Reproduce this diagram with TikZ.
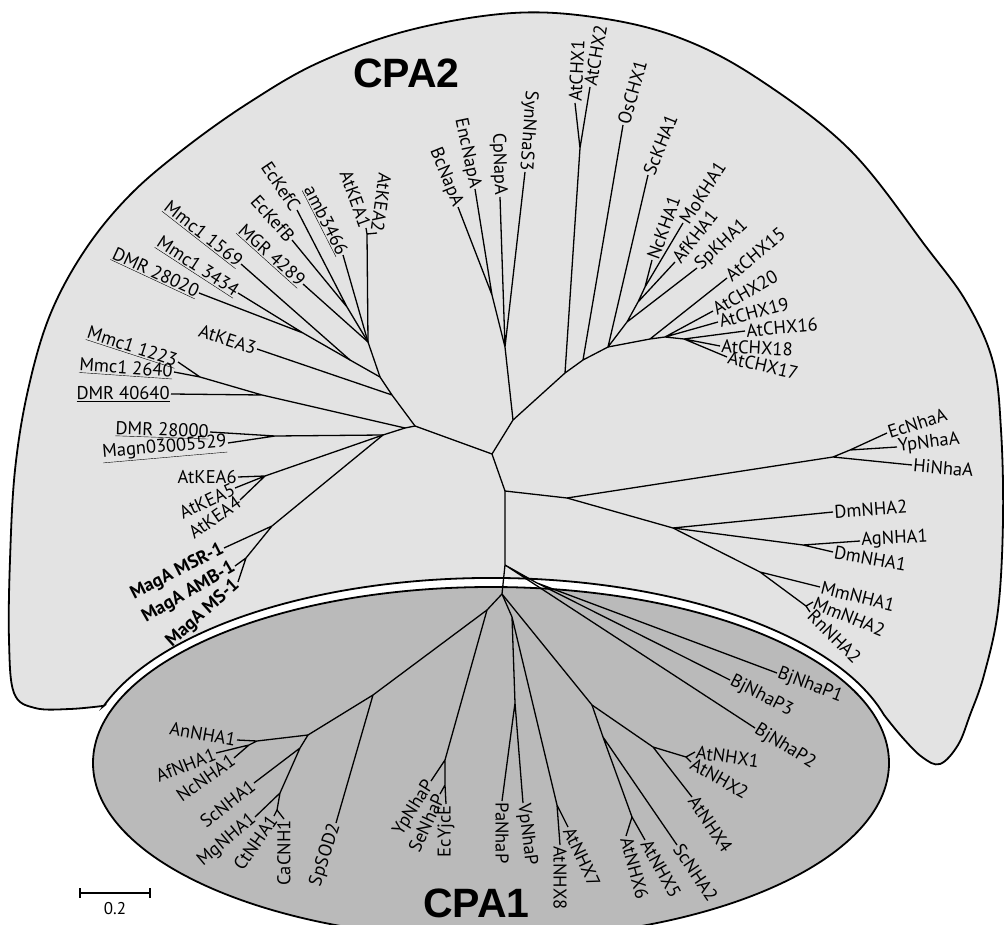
\documentclass[tikz,border=0pt]{standalone}
\usepackage{fontspec}
\setmainfont{PT Sans}
\newfontfamily\titlefont{Liberation Sans}
\definecolor{cpatwo}{HTML}{E3E3E3}
\definecolor{cpaone}{HTML}{BABABA}
\newcommand\leaffont{\fontsize{18.5}{20}\selectfont}

\begin{document}
\begin{tikzpicture}[x=1pt,y=-1pt,
    branch/.style={line width=1.3pt},
    lab/.style={font=\leaffont,inner sep=1.2pt},
    labl/.style={lab,anchor=east},
    labr/.style={lab,anchor=west},
    title/.style={font=\titlefont\bfseries\fontsize{41}{41}\selectfont,inner sep=0pt}]
    \useasboundingbox (0,0) rectangle (1004,925);

    \fill[cpatwo,draw=black,line width=1.8pt] plot[smooth,tension=0.6] coordinates {(103.9,705.8) (70,709) (35,708) (14,693) (9,640) (10,560) (15,470) (28,390) (50,315) (85,250) (130,195) (185,148) (250,102) (320,62) (410,30) (513,13) (600,18) (680,38) (757,78) (850,150) (927,248) (967,303) (993,362) (1001,430) (1003,520) (998,610) (984,675) (970,715) (958,745) (940,764) (922,757) (902,737) (884.1,715.1)} arc[start angle=345, end angle=198, x radius=407, y radius=185] -- cycle;
    \fill[cpaone,draw=black,line width=1.8pt] (491,763) ellipse [x radius=398, y radius=176];

    \node[title,anchor=base west] (cpa2) at (353,88) {CPA2};
    \node[title,anchor=base west] (cpa1) at (423,917) {CPA1};

    \coordinate (kea12) at (367,234);
    \coordinate (kefcb) at (347,307);
    \coordinate (ka) at (368,342);
    \coordinate (kpair) at (303,333);
    \coordinate (kc) at (350,360);
    \coordinate (kb) at (380,377);
    \coordinate (kd) at (392,395);
    \coordinate (L) at (415,426);
    \coordinate (L2) at (405,428);
    \coordinate (L3) at (383,435);
    \coordinate (m1) at (200,377);
    \coordinate (m2) at (262,395);
    \coordinate (m3) at (275,436);
    \coordinate (kea456) at (265,476);
    \coordinate (g1) at (272,526);
    \coordinate (g2) at (246,558);
    \coordinate (C1) at (492,454);
    \coordinate (N1) at (513,420);
    \coordinate (n1) at (505,347);
    \coordinate (n2) at (492,295);
    \coordinate (c1) at (565,373);
    \coordinate (ax) at (580,148);
    \coordinate (c2) at (583,360);
    \coordinate (c3) at (608,347);
    \coordinate (k1) at (627,322);
    \coordinate (k2) at (638,302);
    \coordinate (k3) at (645,287);
    \coordinate (c4) at (650,339);
    \coordinate (c5) at (665,337);
    \coordinate (c6) at (684,339);
    \coordinate (C2) at (505,491);
    \coordinate (nh) at (567,498);
    \coordinate (nhaA) at (833,457);
    \coordinate (ey) at (850,450);
    \coordinate (dm) at (673,528);
    \coordinate (ag) at (803,545);
    \coordinate (mm) at (760,572);
    \coordinate (mr) at (806,606);
    \coordinate (C3) at (505,565);
    \coordinate (bj) at (537,583);
    \coordinate (R) at (502,594);
    \coordinate (l1) at (487,610);
    \coordinate (yp) at (445,760);
    \coordinate (se) at (445,785);
    \coordinate (l2) at (373,695);
    \coordinate (l3) at (308,735);
    \coordinate (an) at (257,741);
    \coordinate (af) at (249,745);
    \coordinate (l4) at (300,748);
    \coordinate (l5) at (280,793);
    \coordinate (l6) at (277,810);
    \coordinate (pa) at (512,617);
    \coordinate (pv) at (515,703);
    \coordinate (x78) at (557,805);
    \coordinate (nx) at (592,705);
    \coordinate (n14) at (653,747);
    \coordinate (n12) at (686,757);
    \coordinate (ni) at (603,737);
    \coordinate (n56) at (632,817);

    \node[labl,rotate=-98] (AtKEA2) at (377,233) {AtKEA2};
    \node[labl,rotate=-70] (AtKEA1) at (366,228) {AtKEA1};
    \node[labl,rotate=-63] (amb3466) at (343,255) {\underline{amb3466}};
    \node[labl,rotate=-56] (EcKefC) at (297,210) {EcKefC};
    \node[labl,rotate=-48] (EcKefB) at (292,240) {EcKefB};
    \node[labl,rotate=-42] (MGR4289) at (303,284) {\underline{MGR 4289}};
    \node[labl,rotate=-38] (Mmc1x1569) at (241,264) {\underline{Mmc1 1569}};
    \node[labl,rotate=-33] (Mmc1x3434) at (238,293) {\underline{Mmc1 3434}};
    \node[labl,rotate=-25] (DMR28020) at (199,293) {\underline{DMR 28020}};
    \node[labl,rotate=-18] (AtKEA3) at (257,349) {AtKEA3};
    \node[labl,rotate=-18] (Mmc1x1223) at (178,362) {\underline{Mmc1 1223}};
    \node[labl,rotate=-4] (Mmc1x2640) at (174,372) {\underline{Mmc1 2640}};
    \node[labl] (DMR40640) at (171,394) {\underline{DMR 40640}};
    \node[labl,rotate=-2] (DMR28000) at (210,432) {\underline{DMR 28000}};
    \node[labl,rotate=5] (Magn) at (228,443) {\underline{Magn03005529}};
    \node[labl] (AtKEA6) at (238,477) {AtKEA6};
    \node[labl,rotate=25] (AtKEA5) at (235,488) {AtKEA5};
    \node[labl,rotate=35] (AtKEA4) at (240,500) {AtKEA4};
    \node[labl,rotate=27,font=\leaffont\bfseries] (MagMSR) at (224,548) {MagA MSR-1};
    \node[labl,rotate=30,font=\leaffont\bfseries] (MagAMB) at (235,566) {MagA AMB-1};
    \node[labl,rotate=42,font=\leaffont\bfseries] (MagMS) at (238,582) {MagA MS-1};

    \node[labl,rotate=-68] (BcNapA) at (458,207) {BcNapA};
    \node[labl,rotate=-78] (EncNapA) at (475,189) {EncNapA};
    \node[labl,rotate=-88] (CpNapA) at (500,197) {CpNapA};
    \node[labl,rotate=-94] (SynNhaS3) at (525,172) {SynNhaS3};
    \node[labr,rotate=87] (AtCHX1) at (575,103) {AtCHX1};
    \node[labr,rotate=80] (AtCHX2) at (590,87) {AtCHX2};
    \node[labr,rotate=74] (OsCHX1) at (623,125) {OsCHX1};
    \node[labr,rotate=68] (ScKHA1) at (648,175) {ScKHA1};
    \node[labr,rotate=70] (NcKHA1) at (652,260) {NcKHA1};
    \node[labr,rotate=57] (MoKHA1) at (683,223) {MoKHA1};
    \node[labr,rotate=52] (AfKHA1) at (675,262) {AfKHA1};
    \node[labr,rotate=43] (SpKHA1) at (697,268) {SpKHA1};
    \node[labr,rotate=40] (AtCHX15) at (727,278) {AtCHX15};
    \node[labr,rotate=30] (AtCHX20) at (713,311) {AtCHX20};
    \node[labr,rotate=15] (AtCHX19) at (718,322) {AtCHX19};
    \node[labr,rotate=5] (AtCHX16) at (745,331) {AtCHX16};
    \node[labr,rotate=-3] (AtCHX18) at (720,346) {AtCHX18};
    \node[labr,rotate=-13] (AtCHX17) at (727,357) {AtCHX17};

    \node[labr,rotate=18] (EcNhaA) at (887,433) {EcNhaA};
    \node[labr,rotate=7] (YpNhaA) at (897,447) {YpNhaA};
    \node[labr,rotate=-5] (HiNhaA) at (912,465) {HiNhaA};
    \node[labr,rotate=4] (DmNHA2) at (833,512) {DmNHA2};
    \node[labr,rotate=3] (AgNHA1) at (860,541) {AgNHA1};
    \node[labr,rotate=-10] (DmNHA1) at (833,552) {DmNHA1};
    \node[labr,rotate=-14] (MmNHA1) at (820,587) {MmNHA1};
    \node[labr,rotate=-22] (MmNHA2) at (813,602) {MmNHA2};
    \node[labr,rotate=-45] (RnNHA2) at (810,612) {RnNHA2};
    \node[labr,rotate=-21] (BjNhaP1) at (777,673) {BjNhaP1};
    \node[labr,rotate=-27] (BjNhaP3) at (730,680) {BjNhaP3};
    \node[labr,rotate=-32] (BjNhaP2) at (755,728) {BjNhaP2};

    \node[labr,rotate=-8] (AtNHX1) at (695,752) {AtNHX1};
    \node[labr,rotate=-30] (AtNHX2) at (691,762) {AtNHX2};
    \node[labr,rotate=-56] (AtNHX4) at (692,797) {AtNHX4};
    \node[labr,rotate=-56] (ScNHA2) at (677,845) {ScNHA2};
    \node[labr,rotate=-61] (AtNHX5) at (645,840) {AtNHX5};
    \node[labr,rotate=-75] (AtNHX6) at (626,836) {AtNHX6};
    \node[labr,rotate=-65] (AtNHX7) at (568,827) {AtNHX7};
    \node[labr,rotate=-90] (AtNHX8) at (560,845) {AtNHX8};
    \node[labr,rotate=-83] (VpNhaP) at (523,803) {VpNhaP};
    \node[labr,rotate=-90] (PaNhaP) at (502,801) {PaNhaP};
    \node[labl,rotate=90] (EcYjcE) at (446,804) {EcYjcE};
    \node[labl,rotate=65] (SeNhaP) at (440,794) {SeNhaP};
    \node[labl,rotate=58] (YpNhaP) at (431,781) {YpNhaP};
    \node[labl,rotate=72] (SpSOD2) at (336,823) {SpSOD2};
    \node[labl,rotate=90] (CaCNH1) at (284,819) {CaCNH1};
    \node[labl,rotate=55] (CtNHA1) at (274,816) {CtNHA1};
    \node[labl,rotate=40] (MgNHA1) at (255,817) {MgNHA1};
    \node[labl,rotate=38] (ScNHA1) at (254,783) {ScNHA1};
    \node[labl,rotate=35] (NcNHA1) at (234,758) {NcNHA1};
    \node[labl,rotate=22] (AfNHA1) at (216,753) {AfNHA1};
    \node[labl,rotate=-10] (AnNHA1) at (237,740) {AnNHA1};

    \draw[branch] (kea12) -- (AtKEA1.east) (kea12) -- (AtKEA2.east) (kea12) -- (ka);
    \draw[branch] (kefcb) -- (EcKefC.east) (kefcb) -- (EcKefB.east) (kefcb) -- (ka);
    \draw[branch] (ka) -- (amb3466.east) (ka) -- (MGR4289.east) (ka) -- (kb);
    \draw[branch] (kpair) -- (Mmc1x3434.east) (kpair) -- (DMR28020.east) (kpair) -- (kc);
    \draw[branch] (kc) -- (Mmc1x1569.east) (kc) -- (kb) -- (kd) -- (AtKEA3.east) (kd) -- (L);
    \draw[branch] (m1) -- (Mmc1x1223.east) (m1) -- (Mmc1x2640.east) (m1) -- (m2) -- (DMR40640.east) (m2) -- (L2);
    \draw[branch] (m3) -- (DMR28000.east) (m3) -- (Magn.east) (m3) -- (L3);
    \draw[branch] (kea456) -- (AtKEA6.east) (kea456) -- (AtKEA5.east) (kea456) -- (AtKEA4.east) (kea456) -- (L3);
    \draw[branch] (g2) -- (MagAMB.east) (g2) -- (MagMS.east) (g2) -- (g1) -- (MagMSR.east) (g1) -- (L3);
    \draw[branch] (L3) -- (L2) -- (L) -- (C1) -- (N1) (C1) -- (C2);
    \draw[branch] (N1) -- (n1) -- (n2) -- (BcNapA.east) (n2) -- (EncNapA.east) (n1) -- (CpNapA.east) (n1) -- (SynNhaS3.east);
    \draw[branch] (N1) -- (c1) -- (ax) -- (AtCHX1.west) (ax) -- (AtCHX2.west) (c1) -- (c2) -- (OsCHX1.west) (c2) -- (c3);
    \draw[branch] (c3) -- (ScKHA1.west) (c3) -- (k1) -- (SpKHA1.west) (k1) -- (k2) -- (AfKHA1.west) (k2) -- (k3) -- (NcKHA1.west) (k3) -- (MoKHA1.west);
    \draw[branch] (c3) -- (c4) -- (AtCHX15.west) (c4) -- (c5) -- (AtCHX20.west) (c5) -- (AtCHX19.west) (c5) -- (c6);
    \draw[branch] (c6) -- (AtCHX16.west) (c6) -- (AtCHX18.west) (c6) -- (AtCHX17.west);
    \draw[branch] (C2) -- (nh) -- (nhaA) -- (HiNhaA.west) (nhaA) -- (ey) -- (EcNhaA.west) (ey) -- (YpNhaA.west);
    \draw[branch] (nh) -- (dm) -- (DmNHA2.west) (dm) -- (ag) -- (AgNHA1.west) (ag) -- (DmNHA1.west);
    \draw[branch] (dm) -- (mm) -- (MmNHA1.west) (mm) -- (mr) -- (MmNHA2.west) (mr) -- (RnNHA2.west);
    \draw[branch] (C2) -- (C3) -- (BjNhaP2.west) (C3) -- (bj) -- (BjNhaP1.west) (bj) -- (BjNhaP3.west) (C3) -- (R);
    \draw[branch] (R) -- (l1) -- (yp) -- (YpNhaP.east) (yp) -- (se) -- (SeNhaP.east) (se) -- (EcYjcE.east);
    \draw[branch] (l1) -- (l2) -- (SpSOD2.east) (l2) -- (l3) -- (an) -- (AnNHA1.east) (an) -- (af) -- (AfNHA1.east) (af) -- (NcNHA1.east);
    \draw[branch] (l3) -- (l4) -- (ScNHA1.east) (l4) -- (l5) -- (MgNHA1.east) (l5) -- (l6) -- (CtNHA1.east) (l6) -- (CaCNH1.east);
    \draw[branch] (R) -- (pa) -- (pv) -- (PaNhaP.west) (pv) -- (VpNhaP.west) (pa) -- (x78) -- (AtNHX8.west) (x78) -- (AtNHX7.west);
    \draw[branch] (R) -- (nx) -- (n14) -- (n12) -- (AtNHX1.west) (n12) -- (AtNHX2.west) (n14) -- (AtNHX4.west);
    \draw[branch] (nx) -- (ni) -- (ScNHA2.west) (ni) -- (n56) -- (AtNHX6.west) (n56) -- (AtNHX5.west);

    \coordinate (sb1) at (80,893);
    \coordinate (sb2) at (150,893);
    \draw[line width=1.5pt] (sb1) -- (sb2);
    \draw[line width=1.5pt] ([yshift=5pt]sb1) -- ([yshift=-5pt]sb1);
    \draw[line width=1.5pt] ([yshift=5pt]sb2) -- ([yshift=-5pt]sb2);
    \node[font=\fontsize{17}{18}\selectfont] (sblab) at (115,909) {0.2};
\end{tikzpicture}
\end{document}
